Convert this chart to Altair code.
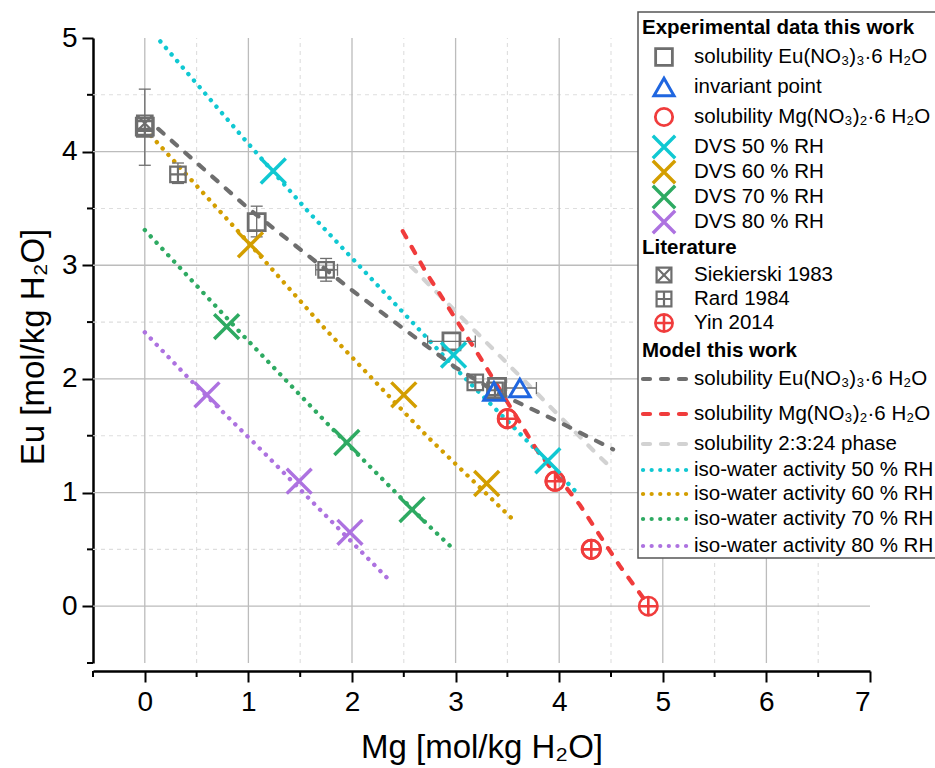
import altair as alt
import pandas as pd

FONT = "Liberation Sans"

# ---------------- data ----------------
# Experimental data this work
eu_sol_x = [0.0, 1.08, 2.96, 3.40]
eu_sol_y = [4.22, 3.38, 2.33, 1.93]
inv_x = [3.37, 3.62]
inv_y = [1.89, 1.92]
mg_sol_x = [3.50, 3.96, 4.31]
mg_sol_y = [1.65, 1.10, 0.50]
dvs50_x = [1.24, 2.98, 3.89]
dvs50_y = [3.83, 2.21, 1.28]
dvs60_x = [1.02, 2.50, 3.30]
dvs60_y = [3.18, 1.86, 1.08]
dvs70_x = [0.79, 1.95, 2.58]
dvs70_y = [2.46, 1.44, 0.85]
dvs80_x = [0.60, 1.49, 1.98]
dvs80_y = [1.86, 1.10, 0.65]
# Literature
siek_x = [0.0]
siek_y = [4.25]
rard_x = [0.0, 0.32, 1.75, 3.19, 3.38]
rard_y = [4.20, 3.80, 2.96, 1.97, 1.90]
yin_x = [3.50, 3.96, 4.31, 4.86]
yin_y = [1.65, 1.10, 0.50, 0.0]
# error bars
errv_x = [0.0, 0.32, 1.08, 1.75]
errv_lo = [3.88, 3.72, 3.25, 2.86]
errv_hi = [4.55, 3.90, 3.52, 3.06]
errh_y = [2.33, 1.92, 2.96]
errh_lo = [2.73, 3.47, 1.65]
errh_hi = [3.19, 3.78, 1.86]
# Model this work
model_eu_x = [0.13, 1.0, 2.0, 3.0, 3.4, 4.0, 4.52]
model_eu_y = [4.20, 3.50, 2.78, 2.10, 1.88, 1.62, 1.38]
model_mg_x = [2.49, 2.72, 3.02, 3.27, 3.49, 3.78, 4.20, 4.58, 4.87]
model_mg_y = [3.30, 2.93, 2.50, 2.14, 1.81, 1.38, 0.89, 0.36, 0.0]
model_ph_x = [2.57, 3.20, 3.80, 4.33, 4.52]
model_ph_y = [2.99, 2.41, 1.86, 1.37, 1.20]
iso50_x = [0.15, 0.98, 1.58, 2.56, 2.98, 3.38, 3.76, 4.19]
iso50_y = [4.97, 4.09, 3.47, 2.52, 2.11, 1.74, 1.39, 0.98]
iso60_x = [0.06, 1.0, 1.75, 2.73, 3.59]
iso60_y = [4.14, 3.20, 2.43, 1.49, 0.73]
iso70_x = [0.0, 0.93, 1.79, 2.75, 2.97]
iso70_y = [3.31, 2.40, 1.58, 0.70, 0.51]
iso80_x = [0.0, 0.43, 1.14, 2.37]
iso80_y = [2.41, 2.00, 1.36, 0.22]

# axis ticks / grid
x_major = [0, 1, 2, 3, 4, 5, 6, 7]
y_major = [0, 1, 2, 3, 4, 5]
x_minor = [-0.5, 0.5, 1.5, 2.5, 3.5, 4.5, 5.5, 6.5]
y_minor = [-0.5, 0.5, 1.5, 2.5, 3.5, 4.5]
x_grid_major = [0, 1, 2, 3, 4, 5, 6]
y_grid_major = [0, 1, 2, 3, 4]
x_grid_minor = [0.5, 1.5, 2.5, 3.5, 4.5, 5.5, 6.5]
y_grid_minor = [0.5, 1.5, 2.5, 3.5, 4.5]
X_MIN, X_MAX = -0.5, 7
Y_MIN, Y_MAX = -0.5, 5

# ---------------- styles ----------------
GRAY = "#6e6e6e"
BLUE = "#1f66e0"
RED = "#f03c3c"
LGRAY = "#d2d2d2"
CYAN = "#10c8d2"
GOLD = "#d39e00"
GREEN = "#2eaa62"
PURPLE = "#ad72e0"

P_X = "M-1,-1L1,1M-1,1L1,-1"
P_SQX = "M-1,-1L1,-1L1,1L-1,1Z M-1,-1L1,1M-1,1L1,-1"
P_SQP = "M-1,-1L1,-1L1,1L-1,1Z M0,-1L0,1M-1,0L1,0"
P_CP = "M1,0A1,1,0,1,1,-1,0A1,1,0,1,1,1,0Z M0,-1L0,1M-1,0L1,0"

W, H = 777, 625
L, T = 93, 38
XOFF = 8

XAX = alt.Axis(
    title="Mg [mol/kg H₂O]", offset=XOFF, titleY=76, titleBaseline="middle",
    values=x_major, grid=False, tickSize=11, labelPadding=6)
YAX = alt.Axis(
    title="Eu [mol/kg H₂O]", titleX=-60, titleY=H / 2 - 4, titleAngle=-90,
    titleBaseline="middle", titleAlign="center", values=y_major, grid=False,
    tickSize=11, labelPadding=5)
XS = alt.Scale(domain=[X_MIN, X_MAX], nice=False, zero=False)
YS = alt.Scale(domain=[Y_MIN, Y_MAX], nice=False, zero=False)


def X(f):
    return alt.X(f"{f}:Q", scale=XS, axis=XAX)


def Y(f):
    return alt.Y(f"{f}:Q", scale=YS, axis=YAX)


def pts(xs, ys, shape, color, size, sw):
    df = pd.DataFrame({"x": xs, "y": ys})
    return alt.Chart(df).mark_point(
        shape=shape, filled=False, stroke=color, strokeWidth=sw, size=size, opacity=1
    ).encode(x=X("x"), y=Y("y"))


def line(xs, ys, color, dash, width):
    df = pd.DataFrame({"x": xs, "y": ys, "o": list(range(len(xs)))})
    return alt.Chart(df).mark_line(
        color=color, strokeDash=dash, strokeWidth=width, strokeCap="round"
    ).encode(x=X("x"), y=Y("y"), order="o:Q")


def vgrid(vals, color, dash, width):
    df = pd.DataFrame({"v": vals, "a": [Y_MIN] * len(vals), "b": [Y_MAX] * len(vals)})
    return alt.Chart(df).mark_rule(color=color, strokeDash=dash, strokeWidth=width).encode(
        x=X("v"), y=Y("a"), y2="b")


def hgrid(vals, color, dash, width):
    df = pd.DataFrame({"v": vals, "a": [X_MIN] * len(vals), "b": [X_MAX] * len(vals)})
    return alt.Chart(df).mark_rule(color=color, strokeDash=dash, strokeWidth=width).encode(
        y=Y("v"), x=X("a"), x2="b")


DASH = [7, 11]
DOT = [0.1, 8.5]

layers = []
# grid
layers.append(vgrid(x_grid_minor, "#dedede", [4, 4], 1.1))
layers.append(hgrid(y_grid_minor, "#dedede", [4, 4], 1.1))
layers.append(vgrid(x_grid_major, "#bcbcbc", [1, 0], 1.3))
layers.append(hgrid(y_grid_major, "#bcbcbc", [1, 0], 1.3))
# minor ticks
layers.append(alt.Chart(pd.DataFrame({"v": x_minor})).mark_rule(color="black", strokeWidth=2).encode(
    x=X("v"), y=alt.value(H + XOFF), y2=alt.value(H + XOFF + 6)))
layers.append(alt.Chart(pd.DataFrame({"v": y_minor})).mark_rule(color="black", strokeWidth=2).encode(
    y=Y("v"), x=alt.value(-6), x2=alt.value(0)))

# model lines
layers.append(line(iso50_x, iso50_y, CYAN, DOT, 4.4))
layers.append(line(iso60_x, iso60_y, GOLD, DOT, 4.4))
layers.append(line(iso70_x, iso70_y, GREEN, DOT, 4.4))
layers.append(line(iso80_x, iso80_y, PURPLE, DOT, 4.4))
layers.append(line(model_ph_x, model_ph_y, LGRAY, DASH, 4.2))
layers.append(line(model_eu_x, model_eu_y, GRAY, DASH, 4.2))
layers.append(line(model_mg_x, model_mg_y, RED, DASH, 4.2))

# error bars
ev = pd.DataFrame({"x": errv_x, "lo": errv_lo, "hi": errv_hi})
layers.append(alt.Chart(ev).mark_rule(color=GRAY, strokeWidth=1.3).encode(
    x=X("x"), y=Y("lo"), y2="hi"))
for f in ["lo", "hi"]:
    layers.append(alt.Chart(ev).mark_rule(color=GRAY, strokeWidth=1.3, xOffset=-6, x2Offset=6).encode(
        x=X("x"), x2="x", y=Y(f)))
eh = pd.DataFrame({"y": errh_y, "lo": errh_lo, "hi": errh_hi})
layers.append(alt.Chart(eh).mark_rule(color=GRAY, strokeWidth=1.3).encode(
    y=Y("y"), x=X("lo"), x2="hi"))
for f in ["lo", "hi"]:
    layers.append(alt.Chart(eh).mark_rule(color=GRAY, strokeWidth=1.3, yOffset=-6, y2Offset=6).encode(
        y=Y("y"), y2="y", x=X(f)))

# points
layers.append(pts(siek_x, siek_y, P_SQX, GRAY, 240, 2.2))
layers.append(pts(rard_x, rard_y, P_SQP, GRAY, 240, 2.2))
layers.append(pts(eu_sol_x, eu_sol_y, "square", GRAY, 290, 2.8))
layers.append(pts(yin_x, yin_y, P_CP, RED, 340, 2.6))
layers.append(pts(mg_sol_x, mg_sol_y, "circle", RED, 340, 2.8))
layers.append(pts(inv_x, inv_y, "triangle-up", BLUE, 420, 3.0))
layers.append(pts(dvs50_x, dvs50_y, P_X, CYAN, 620, 3.5))
layers.append(pts(dvs60_x, dvs60_y, P_X, GOLD, 620, 3.5))
layers.append(pts(dvs70_x, dvs70_y, P_X, GREEN, 620, 3.5))
layers.append(pts(dvs80_x, dvs80_y, P_X, PURPLE, 620, 3.5))

# ---------------- custom legend box ----------------
box_df = pd.DataFrame({"a": [0]})
layers.append(alt.Chart(box_df).mark_rect(fill="white", stroke="#555555", strokeWidth=1.5).encode(
    x=alt.value(638 - L), x2=alt.value(940 - L), y=alt.value(12 - T), y2=alt.value(558 - T)))

LEG_TXT = 20.5
titles = [("Experimental data this work", 28), ("Literature", 248), ("Model this work", 351)]
sym_rows = [
    ("solubility Eu(NO₃)₃·6 H₂O", 57, "square", GRAY, 280, 2.8),
    ("invariant point", 87, "triangle-up", BLUE, 400, 3.0),
    ("solubility Mg(NO₃)₂·6 H₂O", 117, "circle", RED, 300, 2.8),
    ("DVS 50 % RH", 147, P_X, CYAN, 500, 3.4),
    ("DVS 60 % RH", 172, P_X, GOLD, 500, 3.4),
    ("DVS 70 % RH", 197, P_X, GREEN, 500, 3.4),
    ("DVS 80 % RH", 222, P_X, PURPLE, 500, 3.4),
    ("Siekierski 1983", 275, P_SQX, GRAY, 220, 2.2),
    ("Rard 1984", 299, P_SQP, GRAY, 220, 2.2),
    ("Yin 2014", 323, P_CP, RED, 300, 2.6),
]
line_rows = [
    ("solubility Eu(NO₃)₃·6 H₂O", 379, GRAY, DASH),
    ("solubility Mg(NO₃)₂·6 H₂O", 414, RED, DASH),
    ("solubility 2:3:24 phase", 444, LGRAY, DASH),
    ("iso-water activity 50 % RH", 470, CYAN, DOT),
    ("iso-water activity 60 % RH", 494, GOLD, DOT),
    ("iso-water activity 70 % RH", 519, GREEN, DOT),
    ("iso-water activity 80 % RH", 546, PURPLE, DOT),
]

for txt, py in titles:
    layers.append(alt.Chart(box_df).mark_text(
        font=FONT, fontSize=LEG_TXT, fontWeight="bold", align="left", baseline="middle", color="black"
    ).encode(x=alt.value(642 - L), y=alt.value(py - T), text=alt.value(txt)))
for txt, py, shp, col, sz, sw in sym_rows:
    layers.append(alt.Chart(box_df).mark_point(
        shape=shp, filled=False, stroke=col, strokeWidth=sw, size=sz, opacity=1
    ).encode(x=alt.value(664 - L), y=alt.value(py - T)))
    layers.append(alt.Chart(box_df).mark_text(
        font=FONT, fontSize=LEG_TXT, align="left", baseline="middle", color="black"
    ).encode(x=alt.value(694 - L), y=alt.value(py - T), text=alt.value(txt)))
for txt, py, col, dash in line_rows:
    layers.append(alt.Chart(box_df).mark_rule(
        color=col, strokeDash=dash, strokeWidth=4.2, strokeCap="round"
    ).encode(x=alt.value(643 - L), x2=alt.value(688 - L), y=alt.value(py - T)))
    layers.append(alt.Chart(box_df).mark_text(
        font=FONT, fontSize=LEG_TXT, align="left", baseline="middle", color="black"
    ).encode(x=alt.value(694 - L), y=alt.value(py - T), text=alt.value(txt)))

chart = alt.layer(*layers).properties(
    width=W, height=H,
    autosize=alt.AutoSizeParams(type="none"),
    padding={"left": L, "top": T, "right": 935 - L - W, "bottom": 768 - T - H},
).configure_view(stroke=None).configure_axis(
    domainColor="black", domainWidth=2.5, tickColor="black", tickWidth=2,
    labelFont=FONT, labelFontSize=28, labelColor="black",
    titleFont=FONT, titleFontSize=33, titleFontWeight="normal", titleColor="black",
)

chart.save("out.html", embed_options={"renderer": "svg", "actions": False})
